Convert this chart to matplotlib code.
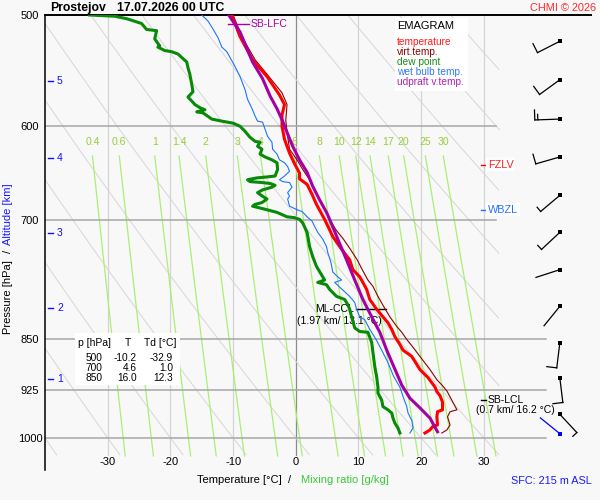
import numpy as np
import matplotlib
matplotlib.use("Agg")
import matplotlib.pyplot as plt
from matplotlib.patches import Rectangle
from matplotlib.transforms import ScaledTranslation
from matplotlib.ticker import NullLocator

plt.rcParams['font.family'] = ['Liberation Sans', 'DejaVu Sans']

# ---------------- data ----------------
temp_p = [500, 518, 538, 553, 570, 579, 589, 600, 613, 627, 638, 648, 654, 660, 671, 682, 699, 719, 734, 747,
          759, 768, 775, 784, 797, 810, 820, 828, 837, 847, 858, 866, 875, 894, 906, 920, 927, 933, 943, 955,
          958, 966, 979, 982, 987, 992]
temp_t = [-10.2, -8.9, -6.9, -4.6, -2.6, -1.8, -2.2, -2.2, -1.8, -1.0, -0.2, 0.6, 0.6, 1.8, 2.6, 3.3, 4.6, 5.9, 7.3, 8.6,
          9.1, 10.2, 10.7, 11.3, 11.8, 12.9, 13.9, 14.7, 15.3, 15.8, 16.6, 17.1, 18.5, 19.8, 21.1, 22.2, 22.5, 23.0, 23.4, 23.4,
          22.6, 22.5, 22.6, 21.8, 21.4, 20.6]

virt_p = [500, 518, 538, 553, 568, 579, 594, 606, 623, 634, 644, 655, 666, 677, 688, 699, 711, 722, 734, 747,
          759, 772, 780, 793, 806, 820, 833, 841, 851, 862, 875, 894, 909, 918, 926, 955, 958, 966, 979, 987, 992]
virt_t = [-10.0, -8.6, -6.5, -4.3, -2.2, -1.4, -1.6, -1.4, -1.0, 0.2, 1.1, 2.2, 3.0, 3.8, 4.7, 5.4, 6.4, 7.6, 8.7, 9.8,
          10.6, 11.5, 12.3, 13.1, 14.0, 15.0, 16.1, 16.9, 17.7, 18.7, 19.8, 21.4, 22.5, 23.4, 24.1, 25.7, 24.6, 24.2, 24.6, 24.1, 23.3]

dew_p = [500, 501, 503, 507, 512, 513, 520, 526, 527, 530, 531, 533, 536, 540, 545, 551, 560, 567, 572, 577,
         579, 582, 584, 586, 587, 593, 595, 597, 600, 605, 611, 615, 616, 620, 623, 628, 631, 634, 637, 644,
         651, 652, 653, 655, 657, 658, 659, 661, 663, 666, 669, 673, 676, 680, 682, 684, 688, 691, 696, 697,
         699, 703, 714, 731, 743, 755, 768, 772, 775, 778, 784, 793, 797, 804, 810, 820, 826, 835, 840, 841,
         848, 855, 869, 890, 905, 920, 929, 940, 950, 955, 960, 968, 976, 984, 992]
dew_t = [-32.9, -28.9, -27.0, -24.6, -23.8, -22.2, -22.5, -21.7, -22.0, -20.9, -19.8, -18.8, -18.2, -17.4, -17.2, -16.9, -16.6, -16.4, -17.2, -16.4,
         -16.1, -15.3, -14.5, -15.8, -14.8, -13.4, -11.8, -10.0, -8.9, -8.1, -7.3, -6.5, -5.7, -6.1, -5.4, -5.7, -4.9, -3.8, -3.0, -2.9,
         -3.3, -4.6, -6.2, -7.7, -7.3, -5.4, -4.1, -3.3, -3.8, -5.3, -6.1, -5.3, -4.6, -5.4, -6.5, -6.9, -4.6, -3.0, -1.4, -0.2,
         0.6, 1.1, 1.8, 2.2, 2.7, 3.3, 4.3, 4.6, 3.5, 4.9, 5.4, 6.5, 7.8, 8.3, 8.6, 8.9, 9.1, 9.4, 10.2, 11.5,
         11.8, 12.1, 12.3, 12.6, 12.9, 13.1, 13.1, 13.7, 13.9, 14.7, 15.3, 15.5, 15.8, 16.3, 16.6]

wet_p = [500, 505, 510, 519, 527, 531, 536, 544, 553, 565, 574, 584, 590, 595, 596, 603, 610, 616, 623, 628,
         634, 637, 641, 646, 651, 655, 657, 658, 663, 669, 673, 676, 684, 688, 690, 696, 701, 707, 714, 722,
         731, 738, 750, 762, 768, 772, 775, 781, 793, 801, 810, 820, 824, 837, 851, 866, 884, 904, 920, 937,
         950, 960, 972, 984, 992]
wet_t = [-15.0, -14.0, -13.4, -12.4, -11.8, -11.0, -10.5, -9.7, -8.9, -8.1, -7.7, -6.9, -6.5, -6.1, -5.3, -4.9, -4.5, -3.8, -3.7, -3.0,
         -2.6, -1.8, -1.3, -1.0, -1.8, -2.6, -2.1, -1.0, -0.6, -1.3, -1.0, -1.3, -1.0, 0.2, 1.0, 1.8, 2.6, 3.0, 3.5, 4.3,
         4.9, 5.1, 5.6, 5.9, 6.7, 7.3, 6.2, 7.0, 8.6, 9.4, 9.7, 10.2, 11.0, 11.8, 12.8, 13.7, 14.7, 15.6, 16.6, 17.2,
         17.7, 17.9, 18.5, 18.7, 18.2]

parc_p = [500, 514, 540, 555, 571, 583, 595, 606, 620, 634, 647, 662, 677, 691, 699, 722, 747, 772, 797, 820,
          841, 866, 887, 917, 937, 952, 968, 990]
parc_t = [-10.7, -8.9, -6.9, -5.3, -4.1, -3.0, -2.1, -1.4, -0.5, 0.6, 1.8, 2.7, 3.8, 4.9, 5.4, 6.7, 8.1, 9.4, 10.7, 12.1,
          13.4, 14.5, 15.5, 16.9, 18.2, 19.8, 21.4, 22.6]

wind_p = [522, 556, 593, 631, 672, 714, 759, 806, 856, 906, 962]
wind_dir = [243, 234, 268, 254, 230, 227, 252, 219, 187, 173, 137]
wind_kt = [10, 10, 15, 10, 5, 5, 2, 2, 10, 10, 5]
sfc_wind_p = [993]
sfc_wind_dir = [309]
sfc_wind_kt = [2]

alt_km = [1, 2, 3, 4, 5]
alt_p = [908, 808, 715, 632, 557]

p_levels = [500, 600, 700, 850, 925, 1000]
t_ticks = [-30, -20, -10, 0, 10, 20, 30]
mix_ratios = [0.4, 0.6, 1, 1.4, 2, 3, 4, 6, 8, 10, 12, 14, 17, 20, 25, 30]
mix_labels = ['0.4', '0.6', '1', '1.4', '2', '3', '4', '6', '8', '10', '12', '14', '17', '20', '25', '30']
theta_c = list(range(-40, 101, 10))

table_p = ['500', '700', '850']
table_t = ['-10.2', '4.6', '16.0']
table_td = ['-32.9', '1.0', '12.3']

# ---------------- figure ----------------
W, H = 600, 500
BG = '#f8f8f8'
fig = plt.figure(figsize=(6, 5), dpi=100, facecolor=BG)


def fx(x):
    return x / W


def fy(y):
    return 1 - y / H


def ftext(x, y, s, **kw):
    kw.setdefault('va', 'center')
    return fig.text(fx(x), fy(y), s, **kw)


ax = fig.add_axes([fx(45), fy(470), (591 - 45) / W, (470 - 15) / H])
ax.set_facecolor(BG)
ax.set_yscale('log')
PX_PER_C = 6.27
T_LEFT = -40.0
T_RIGHT = T_LEFT + (591 - 45) / PX_PER_C
ax.set_xlim(T_LEFT, T_RIGHT)
ax.set_ylim(1054, 500)
for s in ['right', 'bottom']:
    ax.spines[s].set_visible(False)
ax.spines['top'].set_linewidth(1.4)
ax.spines['left'].set_linewidth(1.1)

ax.set_yticks(p_levels)
ax.set_yticklabels([str(p) for p in p_levels])
ax.yaxis.set_minor_locator(NullLocator())
ax.tick_params(axis='y', length=0, pad=10.8, labelsize=8)
for lbl in ax.get_yticklabels():
    lbl.set_horizontalalignment('center')
ax.set_xticks(t_ticks)
ax.set_xticklabels([str(t) for t in t_ticks])
ax.tick_params(axis='x', length=0, pad=-9.5, labelsize=8)

P_BOT = 1028
# isotherms
for t in t_ticks:
    ax.plot([t, t], [500, P_BOT], color='#8c8c8c' if t == 0 else '#d4d4d4', lw=0.9, zorder=1)
# pressure lines
for p in p_levels[1:]:
    tr = 32.0 if p < 800 else 39.9
    ax.plot([T_LEFT, tr], [p, p], color='#a6a6a6', lw=1.1, zorder=1.2)

# dry adiabats
pp = np.geomspace(500, P_BOT, 300)
for th in theta_c:
    tt = (th + 273.15) * (pp / 1000.0) ** 0.286 - 273.15
    m = tt <= 32.5
    ax.plot(tt[m], pp[m], color='#d6d6d6', lw=0.7, zorder=1)


def td_from_w(w, p):
    e = w * p / (622.0 + w)
    g = np.log(e / 6.112)
    return 243.5 * g / (17.67 - g)


pm = np.linspace(630, 1030, 60)
for w, lab in zip(mix_ratios, mix_labels):
    ax.plot(td_from_w(w, pm), pm, color='#a8f074', lw=0.9, zorder=1.1)
    ax.text(td_from_w(w, 630.0), 616, lab, color='#9ccc3a', fontsize=7.6,
            ha='center', va='center', zorder=1.5)

# altitude marks
for km, p in zip(alt_km, alt_p):
    ax.plot([T_LEFT + 3 / PX_PER_C, T_LEFT + 8 / PX_PER_C], [p, p], color='#1010ff', lw=1.0, zorder=2)
    ax.text(T_LEFT + 12 / PX_PER_C, p, str(km), color='#1010ff', fontsize=7.5,
            ha='left', va='center', zorder=2)

# profiles
ax.plot(virt_t, virt_p, color='#8b0000', lw=0.8, zorder=3)
ax.plot(wet_t, wet_p, color='#1e74ff', lw=0.8, zorder=3)
ax.plot(dew_t, dew_p, color='#078a07', lw=2.2, zorder=4)
ax.plot(temp_t, temp_p, color='#ff0000', lw=2.2, zorder=4)
ax.plot(parc_t, parc_p, color='#a400a4', lw=2.2, zorder=5)


def t_of(x):
    return (x - 296) / PX_PER_C


# annotations
ax.plot([t_of(228), t_of(249)], [507.5, 507.5], color='#a400a4', lw=1.0, zorder=6)
ax.text(t_of(251), 507.5, 'SB-LFC', color='#a400a4', fontsize=7.5, ha='left', va='center', zorder=6)

ax.plot([t_of(481), t_of(486)], [639, 639], color='#ff0000', lw=1.0, zorder=6, clip_on=False)
ax.text(t_of(488), 639, 'FZLV', color='#ff2020', fontsize=7.8, ha='left', va='center', zorder=6,
        bbox=dict(facecolor='white', edgecolor='none', pad=1.2))
ax.plot([t_of(481), t_of(486)], [688, 688], color='#1e74ff', lw=1.0, zorder=6)
ax.text(t_of(488), 688, 'WBZL', color='#1e74ff', fontsize=7.8, ha='left', va='center', zorder=6,
        bbox=dict(facecolor='white', edgecolor='none', pad=1.2))

ax.plot([t_of(481), t_of(486)], [940, 940], color='black', lw=1.0, zorder=6)
ax.text(t_of(488), 940, 'SB-LCL', color='black', fontsize=7.5, ha='left', va='center', zorder=6)
ax.text(t_of(516), 956, '(0.7 km/ 16.2 °C)', color='black', fontsize=7.5, ha='center', va='center', zorder=6)

ax.plot([t_of(356), t_of(386)], [810, 810], color='black', lw=1.0, zorder=2)
ax.text(t_of(354), 810, 'ML-CCL', color='black', fontsize=7.5, ha='right', va='center', zorder=2)
ax.text(t_of(340), 825, '(1.97 km/ 13.1 °C)', color='black', fontsize=7.5, ha='center', va='center', zorder=2)

# wind barbs
BARB_T = t_of(560)


def draw_barb(p, d, spd, color):
    tr = fig.dpi_scale_trans + ScaledTranslation(BARB_T, p, ax.transData)
    s = np.array([np.sin(np.radians(d)), np.cos(np.radians(d))])
    n = np.array([s[1], -s[0]])
    L = 0.25
    ax.plot([0, s[0] * L], [0, s[1] * L], color=color, lw=0.9, transform=tr, clip_on=False, zorder=6)
    ax.plot([0], [0], marker='s', ms=3.2, color=color, mew=0, transform=tr, clip_on=False, zorder=6)
    rem = spd
    pos = L
    while rem >= 10:
        a = s * pos
        b = a + n * 0.10
        ax.plot([a[0], b[0]], [a[1], b[1]], color=color, lw=0.9, transform=tr, clip_on=False, zorder=6)
        pos -= 0.03
        rem -= 10
    if rem >= 5:
        a = s * pos
        b = a + n * 0.055
        ax.plot([a[0], b[0]], [a[1], b[1]], color=color, lw=0.9, transform=tr, clip_on=False, zorder=6)


for p, d, k in zip(wind_p, wind_dir, wind_kt):
    draw_barb(p, d, k, 'black')
for p, d, k in zip(sfc_wind_p, sfc_wind_dir, sfc_wind_kt):
    draw_barb(p, d, k, '#0000ff')

# legend box
fig.add_artist(Rectangle((fx(395), fy(91)), 73 / W, 73 / H, transform=fig.transFigure,
                         facecolor='white', edgecolor='none', zorder=2))
ftext(397, 26, 'EMAGRAM', color='black', fontsize=8, zorder=3)
leg = [('temperature', '#ff1a1a'), ('virt.temp.', '#8b0000'), ('dew point', '#1a8c1a'),
       ('wet bulb temp.', '#2a7aff'), ('udpraft v.temp.', '#b020b0')]
for i, (lab, col) in enumerate(leg):
    ftext(397, 42 + i * 9.9, lab, color=col, fontsize=7.3, zorder=3)

# table box
fig.add_artist(Rectangle((fx(75), fy(385)), 105 / W, 52 / H, transform=fig.transFigure,
                         facecolor='white', edgecolor='none', zorder=2))
ftext(78, 343, 'p [hPa]', fontsize=7.5, zorder=3)
ftext(128, 343, 'T', fontsize=7.5, ha='center', zorder=3)
ftext(177, 343, 'Td [°C]', fontsize=7.5, ha='right', zorder=3)
for i, (a, b, c) in enumerate(zip(table_p, table_t, table_td)):
    y = 358 + i * 10
    ftext(102, y, a, fontsize=7.3, ha='right', zorder=3)
    ftext(137, y, b, fontsize=7.3, ha='right', zorder=3)
    ftext(173, y, c, fontsize=7.3, ha='right', zorder=3)

# titles and labels
ftext(50, 8, 'Prostejov', fontsize=8.8, fontweight='bold', ha='left')
ftext(117, 8, '17.07.2026 00 UTC', fontsize=8.8, fontweight='bold', ha='left')
ftext(596, 8, 'CHMI © 2026', fontsize=7.9, color='#ff2a2a', ha='right')
ftext(8, 297, 'Pressure [hPa]', fontsize=8, rotation=90, ha='center')
ftext(8, 251, '/', fontsize=8, rotation=90, ha='center')
ftext(8, 214, 'Altitude [km]', fontsize=8, rotation=90, ha='center', color='#1a1aff')
ftext(239, 480, 'Temperature [°C]', fontsize=8, ha='center')
ftext(290, 480, '/', fontsize=8, ha='center')
ftext(345, 480, 'Mixing ratio [g/kg]', fontsize=8, ha='center', color='#3cc83c')
ftext(551, 481, 'SFC: 215 m ASL', fontsize=7.8, ha='center', color='#1a1aff')

fig.savefig('out.png', dpi=100, facecolor=BG)
